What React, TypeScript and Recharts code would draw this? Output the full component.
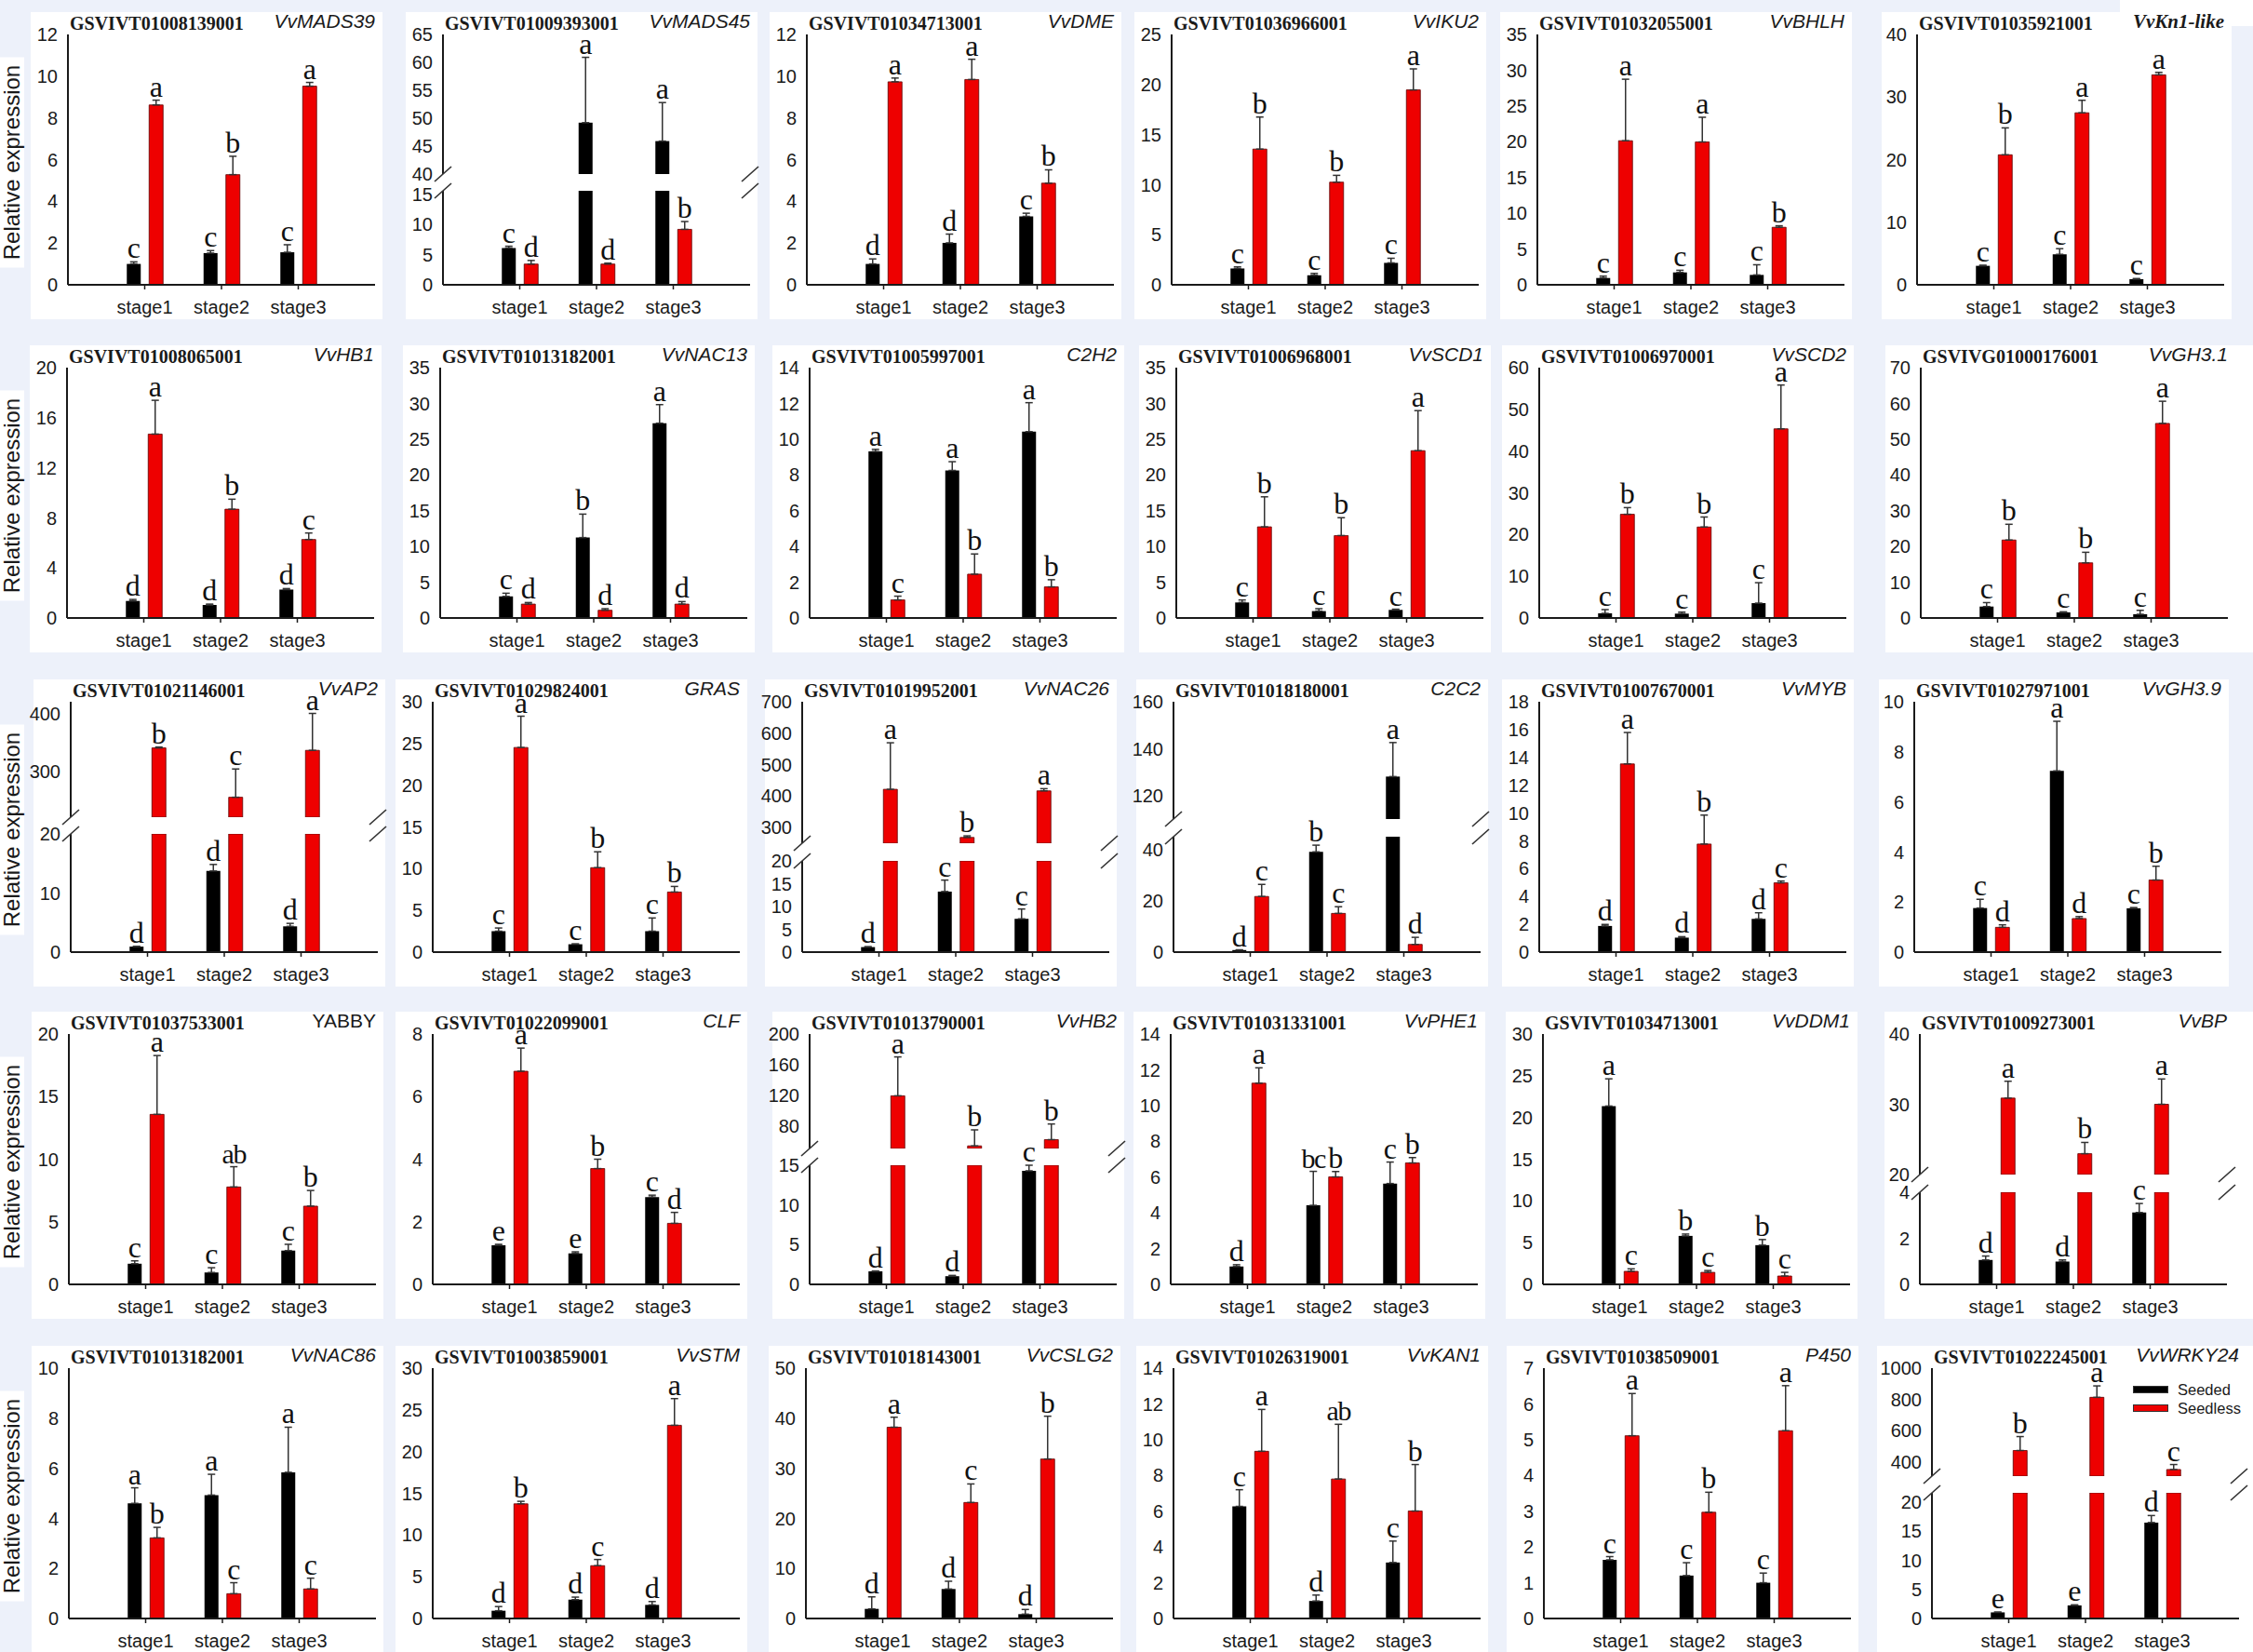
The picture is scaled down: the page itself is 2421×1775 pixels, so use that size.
import React from 'react';
import { BarChart, Bar, XAxis, YAxis, ErrorBar, LabelList, Legend } from 'recharts';

// ---------------- DATA ----------------
const STAGES = ['stage1', 'stage2', 'stage3'];

const GENE_IDS = [
  'GSVIVT01008139001', 'GSVIVT01009393001', 'GSVIVT01034713001', 'GSVIVT01036966001', 'GSVIVT01032055001', 'GSVIVT01035921001',
  'GSVIVT01008065001', 'GSVIVT01013182001', 'GSVIVT01005997001', 'GSVIVT01006968001', 'GSVIVT01006970001', 'GSVIVG01000176001',
  'GSVIVT01021146001', 'GSVIVT01029824001', 'GSVIVT01019952001', 'GSVIVT01018180001', 'GSVIVT01007670001', 'GSVIVT01027971001',
  'GSVIVT01037533001', 'GSVIVT01022099001', 'GSVIVT01013790001', 'GSVIVT01031331001', 'GSVIVT01034713001', 'GSVIVT01009273001',
  'GSVIVT01013182001', 'GSVIVT01003859001', 'GSVIVT01018143001', 'GSVIVT01026319001', 'GSVIVT01038509001', 'GSVIVT01022245001',
];

const GENE_NAMES = [
  'VvMADS39', 'VvMADS45', 'VvDME', 'VvIKU2', 'VvBHLH', 'VvKn1-like',
  'VvHB1', 'VvNAC13', 'C2H2', 'VvSCD1', 'VvSCD2', 'VvGH3.1',
  'VvAP2', 'GRAS', 'VvNAC26', 'C2C2', 'VvMYB', 'VvGH3.9',
  'YABBY', 'CLF', 'VvHB2', 'VvPHE1', 'VvDDM1', 'VvBP',
  'VvNAC86', 'VvSTM', 'VvCSLG2', 'VvKAN1', 'P450', 'VvWRKY24',
];

const SEEDED = [
  [1.0, 1.52, 1.56], [6.1, 49.2, 45.9], [1.0, 2.01, 3.28], [1.63, 0.95, 2.19], [0.95, 1.73, 1.38], [3.03, 4.87, 0.9],
  [1.36, 1.04, 2.27], [3.02, 11.24, 27.23], [9.31, 8.25, 10.42], [2.17, 0.96, 1.13], [1.11, 1.04, 3.56], [3.2, 1.56, 1.04],
  [0.93, 13.73, 4.36], [2.51, 0.94, 2.51], [1.1, 13.29, 7.3], [0.8, 39.1, 128.1], [1.88, 1.04, 2.39], [1.76, 7.24, 1.75],
  [1.65, 0.95, 2.7], [1.25, 0.99, 2.79], [1.64, 1.03, 14.3], [1.0, 4.42, 5.64], [21.37, 5.81, 4.7], [1.06, 0.99, 3.12],
  [4.6, 4.93, 5.84], [0.93, 2.26, 1.63], [1.92, 5.89, 0.87], [6.27, 0.98, 3.13], [1.64, 1.2, 1.0], [1.05, 2.25, 16.5],
];
const SEEDED_ERR = [
  [0.1, 0.12, 0.36], [0.3, 11.7, 6.9], [0.24, 0.42, 0.15], [0.16, 0.19, 0.46], [0.26, 0.3, 1.42], [0.1, 0.9, 0.1],
  [0.12, 0.07, 0.08], [0.44, 3.28, 2.6], [0.12, 0.49, 1.62], [0.35, 0.34, 0.1], [0.9, 0.37, 4.9], [1.1, 0.17, 1.1],
  [0.05, 1.1, 0.5], [0.38, 0.05, 1.58], [0.1, 2.5, 2.15], [0.1, 2.6, 14.5], [0.11, 0.07, 0.44], [0.35, 1.98, 0.03],
  [0.23, 0.38, 0.5], [0.03, 0.05, 0.06], [0.05, 0.1, 0.7], [0.1, 1.9, 1.2], [3.26, 0.22, 0.67], [0.17, 0.07, 0.39],
  [0.62, 0.83, 1.8], [0.5, 0.3, 0.4], [2.4, 1.55, 0.93], [0.93, 0.33, 1.2], [0.09, 0.36, 0.27], [0.05, 0.1, 1.2],
];
const SEEDLESS = [
  [8.62, 5.28, 9.52], [3.44, 3.44, 9.2], [9.73, 9.84, 4.87], [13.55, 10.25, 19.46], [20.14, 19.97, 8.04], [20.77, 27.48, 33.54],
  [14.69, 8.69, 6.27], [1.94, 1.08, 1.94], [1.01, 2.45, 1.74], [12.74, 11.52, 23.39], [24.85, 21.8, 45.33], [21.8, 15.42, 54.4],
  [340, 254.5, 335.8], [24.52, 10.12, 7.2], [421.5, 268.4, 416.5], [21.7, 15.1, 3.0], [13.53, 7.77, 4.98], [0.99, 1.34, 2.88],
  [13.58, 7.78, 6.25], [6.81, 3.7, 1.95], [119, 53.4, 61.6], [11.25, 6.01, 6.79], [1.56, 1.44, 1.0], [30.88, 22.97, 30.0],
  [3.22, 0.99, 1.18], [13.74, 6.33, 23.15], [38.2, 23.17, 31.85], [9.35, 7.8, 6.01], [5.11, 2.97, 5.25], [473.6, 813.5, 352],
];
const SEEDLESS_ERR = [
  [0.23, 0.88, 0.18], [0.6, 0.15, 1.3], [0.18, 0.97, 0.64], [3.2, 0.68, 2.1], [8.6, 3.45, 0.21], [4.3, 2.0, 0.4],
  [2.7, 0.8, 0.52], [0.22, 0.22, 0.35], [0.21, 1.13, 0.4], [4.2, 2.5, 5.6], [1.6, 2.4, 10.5], [4.4, 2.95, 6.2],
  [1.5, 49, 64], [3.75, 1.9, 0.67], [148, 5, 7], [4.7, 2.6, 2.76], [2.26, 2.08, 0.13], [0.1, 0.08, 0.55],
  [4.7, 1.62, 1.25], [0.74, 0.3, 0.35], [51, 21, 20.5], [0.86, 0.3, 0.3], [0.3, 0.22, 0.44], [2.4, 1.6, 3.6],
  [0.42, 0.44, 0.43], [0.3, 0.74, 3.2], [2.0, 3.7, 8.55], [2.34, 3.06, 2.6], [1.18, 0.56, 1.26], [89, 73, 32],
];
const SEEDED_LETTERS = [
  ['c', 'c', 'c'], ['c', 'a', 'a'], ['d', 'd', 'c'], ['c', 'c', 'c'], ['c', 'c', 'c'], ['c', 'c', 'c'],
  ['d', 'd', 'd'], ['c', 'b', 'a'], ['a', 'a', 'a'], ['c', 'c', 'c'], ['c', 'c', 'c'], ['c', 'c', 'c'],
  ['d', 'd', 'd'], ['c', 'c', 'c'], ['d', 'c', 'c'], ['d', 'b', 'a'], ['d', 'd', 'd'], ['c', 'a', 'c'],
  ['c', 'c', 'c'], ['e', 'e', 'c'], ['d', 'd', 'c'], ['d', 'bc', 'c'], ['a', 'b', 'b'], ['d', 'd', 'c'],
  ['a', 'a', 'a'], ['d', 'd', 'd'], ['d', 'd', 'd'], ['c', 'd', 'c'], ['c', 'c', 'c'], ['e', 'e', 'd'],
];
const SEEDLESS_LETTERS = [
  ['a', 'b', 'a'], ['d', 'd', 'b'], ['a', 'a', 'b'], ['b', 'b', 'a'], ['a', 'a', 'b'], ['b', 'a', 'a'],
  ['a', 'b', 'c'], ['d', 'd', 'd'], ['c', 'b', 'b'], ['b', 'b', 'a'], ['b', 'b', 'a'], ['b', 'b', 'a'],
  ['b', 'c', 'a'], ['a', 'b', 'b'], ['a', 'b', 'a'], ['c', 'c', 'd'], ['a', 'b', 'c'], ['d', 'd', 'b'],
  ['a', 'ab', 'b'], ['a', 'b', 'd'], ['a', 'b', 'b'], ['a', 'b', 'b'], ['c', 'c', 'c'], ['a', 'b', 'a'],
  ['b', 'c', 'c'], ['b', 'c', 'a'], ['a', 'c', 'b'], ['a', 'ab', 'b'], ['a', 'b', 'a'], ['b', 'a', 'c'],
];

// y ticks of unbroken panels (null = broken axis, see below)
const Y_TICKS: (number[] | null)[] = [
  [0, 2, 4, 6, 8, 10, 12], null, [0, 2, 4, 6, 8, 10, 12], [0, 5, 10, 15, 20, 25], [0, 5, 10, 15, 20, 25, 30, 35], [0, 10, 20, 30, 40],
  [0, 4, 8, 12, 16, 20], [0, 5, 10, 15, 20, 25, 30, 35], [0, 2, 4, 6, 8, 10, 12, 14], [0, 5, 10, 15, 20, 25, 30, 35], [0, 10, 20, 30, 40, 50, 60], [0, 10, 20, 30, 40, 50, 60, 70],
  null, [0, 5, 10, 15, 20, 25, 30], null, null, [0, 2, 4, 6, 8, 10, 12, 14, 16, 18], [0, 2, 4, 6, 8, 10],
  [0, 5, 10, 15, 20], [0, 2, 4, 6, 8], null, [0, 2, 4, 6, 8, 10, 12, 14], [0, 5, 10, 15, 20, 25, 30], null,
  [0, 2, 4, 6, 8, 10], [0, 5, 10, 15, 20, 25, 30], [0, 10, 20, 30, 40, 50], [0, 2, 4, 6, 8, 10, 12, 14], [0, 1, 2, 3, 4, 5, 6, 7], null,
];

// broken-axis panels
const BREAK_PANELS = [1, 12, 14, 15, 20, 23, 29];
const BREAK_LOW_MAX = [15.6, 20, 20, 45, 15, 4, 21.6];
const BREAK_LOW_TICKS = [[0, 5, 10, 15], [0, 10, 20], [0, 5, 10, 15, 20], [0, 20, 40], [0, 5, 10, 15], [0, 2, 4], [0, 5, 10, 15, 20]];
const BREAK_UP_DOMAIN = [[40, 65], [220, 420], [250, 700], [110, 160], [50, 200], [20, 40], [310, 1000]];
const BREAK_UP_TICKS = [[40, 45, 50, 55, 60, 65], [300, 400], [300, 400, 500, 600, 700], [120, 140, 160], [80, 120, 160, 200], [20, 30, 40], [400, 600, 800, 1000]];

// ---------------- LAYOUT ----------------
const PAGE_W = 2421;
const PAGE_H = 1775;
const PLOT_LEFT = [
  [73, 476, 867, 1259, 1652, 2060],
  [72, 473, 870, 1264, 1654, 2064],
  [76, 465, 862, 1261, 1654, 2057],
  [74, 465, 870, 1258, 1658, 2063],
  [74, 465, 866, 1261, 1659, 2076],
];
const ROW_TOP = [37, 395, 754, 1111, 1470];
const PLOT_W = 330;
const PLOT_H = 269;
const BREAK_UPPER_H = [150, 124, 152, 126, 123, 151, 116];
const BREAK_GAP_H = [18, 18, 19, 19, 18, 19, 18];

const YW = 75;
const MT = 45;
const MR = 12;
const XH = 50;
const MB = 16;

const BG = '#EDF1FA';
const INK = '#1a1a1a';
const RED = '#EE0000';
const SANS = "'Liberation Sans', Arial, Helvetica, sans-serif";
const SERIF = "'Liberation Serif', 'Times New Roman', Times, serif";
const AXIS_LINE = { stroke: INK, strokeWidth: 2 };
const TICK_STYLE = { fontSize: 20, fill: INK, fontFamily: SANS };

type Mode = 'full' | 'low' | 'up';

function buildRows(i: number, mode: Mode, lo: number, hi: number) {
  return STAGES.map((stage, k) => {
    const row: any = { stage };
    const series: [string, number[][], number[][], string[][]][] = [
      ['seeded', SEEDED, SEEDED_ERR, SEEDED_LETTERS],
      ['seedless', SEEDLESS, SEEDLESS_ERR, SEEDLESS_LETTERS],
    ];
    series.forEach(([key, vals, errs, lets]) => {
      const v = vals[i][k];
      const e = errs[i][k];
      const l = lets[i][k];
      let visible = true;
      let shown = v;
      if (mode === 'low') {
        visible = v <= hi;
        shown = Math.min(v, hi);
      } else if (mode === 'up') {
        visible = v > lo;
        shown = visible ? v : lo;
      }
      row[key] = shown;
      row[key + 'Err'] = visible ? [0, e] : null;
      row[key + 'Lab'] = visible ? `${l}|${v}|${e}` : '';
    });
    return row;
  });
}

function makeLetter(base: number) {
  return function LetterContent(props: any) {
    const raw = props.value;
    if (raw === undefined || raw === null || raw === '') return null;
    const vb = props.viewBox && typeof props.viewBox.x === 'number' ? props.viewBox : props;
    const x = Number(vb.x);
    const y = Number(vb.y);
    const w = Number(vb.width);
    const h = Number(vb.height);
    if (!isFinite(x) || !isFinite(y) || !isFinite(h)) return null;
    const parts = String(raw).split('|');
    const letter = parts[0];
    const v = parseFloat(parts[1]);
    const e = parseFloat(parts[2]);
    const top = h >= 0 ? y : y + h;
    const ph = Math.abs(h);
    const span = v - base;
    const ppu = span > 0 ? ph / span : 0;
    const yTop = top - e * ppu;
    const multi = letter.length > 1;
    return (
      <text
        x={x + w / 2}
        y={yTop - 4}
        textAnchor="middle"
        fontFamily={SERIF}
        fontSize={multi ? 30 : 32}
        letterSpacing={multi ? -1.5 : 0}
        fill="#111"
      >
        {letter}
      </text>
    );
  };
}

function LegendContent(props: any) {
  const items = props.payload || [];
  return (
    <div style={{ display: 'flex', flexDirection: 'column' }}>
      {items.map((p: any) => (
        <div key={String(p.value)} style={{ display: 'flex', alignItems: 'center', height: 20 }}>
          <span
            style={{
              display: 'inline-block',
              width: 36,
              height: 6,
              background: p.color,
              border: '1px solid #333',
              marginRight: 10,
            }}
          />
          <span style={{ fontSize: 16.5, fontFamily: SANS, color: INK, lineHeight: '20px' }}>{p.value}</span>
        </div>
      ))}
    </div>
  );
}

type SegProps = {
  rows: any[];
  domain: number[];
  ticks: number[];
  left: number;
  top: number;
  plotH: number;
  showTop: boolean;
  showBottom: boolean;
  base: number;
  legend?: boolean;
};

function Segment({ rows, domain, ticks, left, top, plotH, showTop, showBottom, base, legend }: SegProps) {
  const width = YW + PLOT_W + MR;
  const height = MT + plotH + (showBottom ? XH : MB);
  const pad = PLOT_W / 8;
  const chartLeft = left - YW;
  const chartTop = top - MT;
  return (
    <div style={{ position: 'absolute', left: chartLeft, top: chartTop }}>
      <BarChart
        width={width}
        height={height}
        data={rows}
        margin={{ top: MT, right: MR, bottom: showBottom ? 0 : MB, left: 0 }}
        barSize={15}
        barGap={9}
      >
        <XAxis
          dataKey="stage"
          hide={!showBottom}
          height={XH}
          interval={0}
          padding={{ left: pad, right: pad }}
          axisLine={AXIS_LINE}
          tickLine={{ stroke: INK, strokeWidth: 1.5 }}
          tickSize={5}
          tickMargin={12}
          tick={TICK_STYLE}
        />
        {showTop ? (
          <XAxis
            xAxisId="top"
            orientation="top"
            dataKey="stage"
            height={0}
            padding={{ left: pad, right: pad }}
            tick={false}
            tickLine={false}
            axisLine={AXIS_LINE}
          />
        ) : null}
        <YAxis
          type="number"
          domain={domain}
          ticks={ticks}
          interval={0}
          allowDataOverflow
          width={YW}
          tickLine={false}
          tickSize={6}
          tickMargin={5}
          axisLine={AXIS_LINE}
          tick={TICK_STYLE}
        />
        <YAxis yAxisId="r" orientation="right" width={0} tick={false} tickLine={false} axisLine={AXIS_LINE} />
        <Bar dataKey="seeded" name="Seeded" fill="#000000" isAnimationActive={false}>
          <ErrorBar dataKey="seededErr" direction="y" width={4} stroke="#333" strokeWidth={1.5} isAnimationActive={false} />
          <LabelList dataKey="seededLab" content={makeLetter(base)} />
        </Bar>
        <Bar dataKey="seedless" name="Seedless" fill={RED} stroke="#5a0000" strokeWidth={0.8} isAnimationActive={false}>
          <ErrorBar dataKey="seedlessErr" direction="y" width={4} stroke="#333" strokeWidth={1.5} isAnimationActive={false} />
          <LabelList dataKey="seedlessLab" content={makeLetter(base)} />
        </Bar>
        {legend ? (
          <Legend
            layout="vertical"
            align="center"
            verticalAlign="middle"
            content={LegendContent}
            wrapperStyle={{ left: 2292 - chartLeft, top: 1483 - chartTop, width: 126 }}
          />
        ) : null}
      </BarChart>
    </div>
  );
}

function Panel({ i }: { i: number }) {
  const r = Math.floor(i / 6);
  const c = i % 6;
  const left = PLOT_LEFT[r][c];
  const top = ROW_TOP[r];
  const b = BREAK_PANELS.indexOf(i);
  if (b < 0) {
    const ticks = Y_TICKS[i] as number[];
    const max = ticks[ticks.length - 1];
    return (
      <Segment
        rows={buildRows(i, 'full', 0, max)}
        domain={[0, max]}
        ticks={ticks}
        left={left}
        top={top}
        plotH={PLOT_H}
        showTop
        showBottom
        base={0}
      />
    );
  }
  const upH = BREAK_UPPER_H[b];
  const gapH = BREAK_GAP_H[b];
  const lowH = PLOT_H - upH - gapH;
  const [uMin, uMax] = BREAK_UP_DOMAIN[b];
  const lMax = BREAK_LOW_MAX[b];
  return (
    <>
      <Segment
        rows={buildRows(i, 'up', uMin, uMax)}
        domain={[uMin, uMax]}
        ticks={BREAK_UP_TICKS[b]}
        left={left}
        top={top}
        plotH={upH}
        showTop
        showBottom={false}
        base={uMin}
        legend={i === 29}
      />
      <Segment
        rows={buildRows(i, 'low', 0, lMax)}
        domain={[0, lMax]}
        ticks={BREAK_LOW_TICKS[b]}
        left={left}
        top={top + upH + gapH}
        plotH={lowH}
        showTop={false}
        showBottom
        base={0}
      />
    </>
  );
}

function WhiteBoxes() {
  const boxes: React.ReactNode[] = [];
  for (let i = 0; i < 30; i++) {
    const r = Math.floor(i / 6);
    const c = i % 6;
    const left = PLOT_LEFT[r][c];
    const top = ROW_TOP[r];
    const bl = i === 29 ? 2017 : left - (c === 5 ? 38 : 40);
    const br = c === 5 && (i === 29 || i === 11 || i === 23) ? PAGE_W : left + PLOT_W + 8;
    const bt = top - 24;
    const bb = r === 4 ? PAGE_H : top + PLOT_H + 37;
    boxes.push(
      <div key={'b' + i} style={{ position: 'absolute', left: bl, top: bt, width: br - bl, height: bb - bt, background: '#ffffff' }} />
    );
  }
  boxes.push(<div key="notch" style={{ position: 'absolute', left: 2278, top: 0, width: PAGE_W - 2278, height: 28, background: '#ffffff' }} />);
  return <>{boxes}</>;
}

function Overlay() {
  const items: React.ReactNode[] = [];
  for (let i = 0; i < 30; i++) {
    const r = Math.floor(i / 6);
    const c = i % 6;
    const left = PLOT_LEFT[r][c];
    const top = ROW_TOP[r];
    items.push(
      <text key={'id' + i} x={left + 2} y={top - 5} fontFamily={SERIF} fontWeight="bold" fontSize={20} fill={INK}>
        {GENE_IDS[i]}
      </text>
    );
    const serifName = i === 5;
    const upright = i === 18;
    items.push(
      <text
        key={'nm' + i}
        x={left + PLOT_W}
        y={top - 7}
        textAnchor="end"
        fontFamily={serifName ? SERIF : SANS}
        fontWeight={serifName ? 'bold' : 'normal'}
        fontStyle={upright ? 'normal' : 'italic'}
        fontSize={21}
        fill={INK}
      >
        {GENE_NAMES[i]}
      </text>
    );
  }
  for (let r = 0; r < 5; r++) {
    const cy = ROW_TOP[r] + PLOT_H / 2 + 3;
    items.push(<rect key={'yr' + r} x={0} y={cy - 113} width={26} height={226} fill="#ffffff" />);
    items.push(
      <text
        key={'yl' + r}
        x={0}
        y={0}
        transform={`translate(21, ${cy}) rotate(-90)`}
        textAnchor="middle"
        fontFamily={SANS}
        fontSize={24}
        fill={INK}
      >
        Relative expression
      </text>
    );
  }
  BREAK_PANELS.forEach((i, b) => {
    const r = Math.floor(i / 6);
    const c = i % 6;
    const left = PLOT_LEFT[r][c];
    const top = ROW_TOP[r];
    const yA = top + BREAK_UPPER_H[b];
    const yB = yA + BREAK_GAP_H[b];
    [left, left + PLOT_W].forEach((x, s) => {
      [yA, yB].forEach((y, t) => {
        items.push(
          <line key={`br${i}-${s}-${t}`} x1={x - 9} y1={y + 8} x2={x + 9} y2={y - 8} stroke="#333" strokeWidth={1.6} />
        );
      });
    });
  });
  return (
    <svg
      width={PAGE_W}
      height={PAGE_H}
      style={{ position: 'absolute', left: 0, top: 0, pointerEvents: 'none' }}
    >
      {items}
    </svg>
  );
}

export default function App() {
  const panels = [];
  for (let i = 0; i < 30; i++) panels.push(<Panel key={i} i={i} />);
  return (
    <div
      style={{
        position: 'absolute',
        left: 0,
        top: 0,
        width: PAGE_W,
        height: PAGE_H,
        background: BG,
        overflow: 'hidden',
        fontFamily: SANS,
      }}
    >
      <WhiteBoxes />
      {panels}
      <Overlay />
    </div>
  );
}
